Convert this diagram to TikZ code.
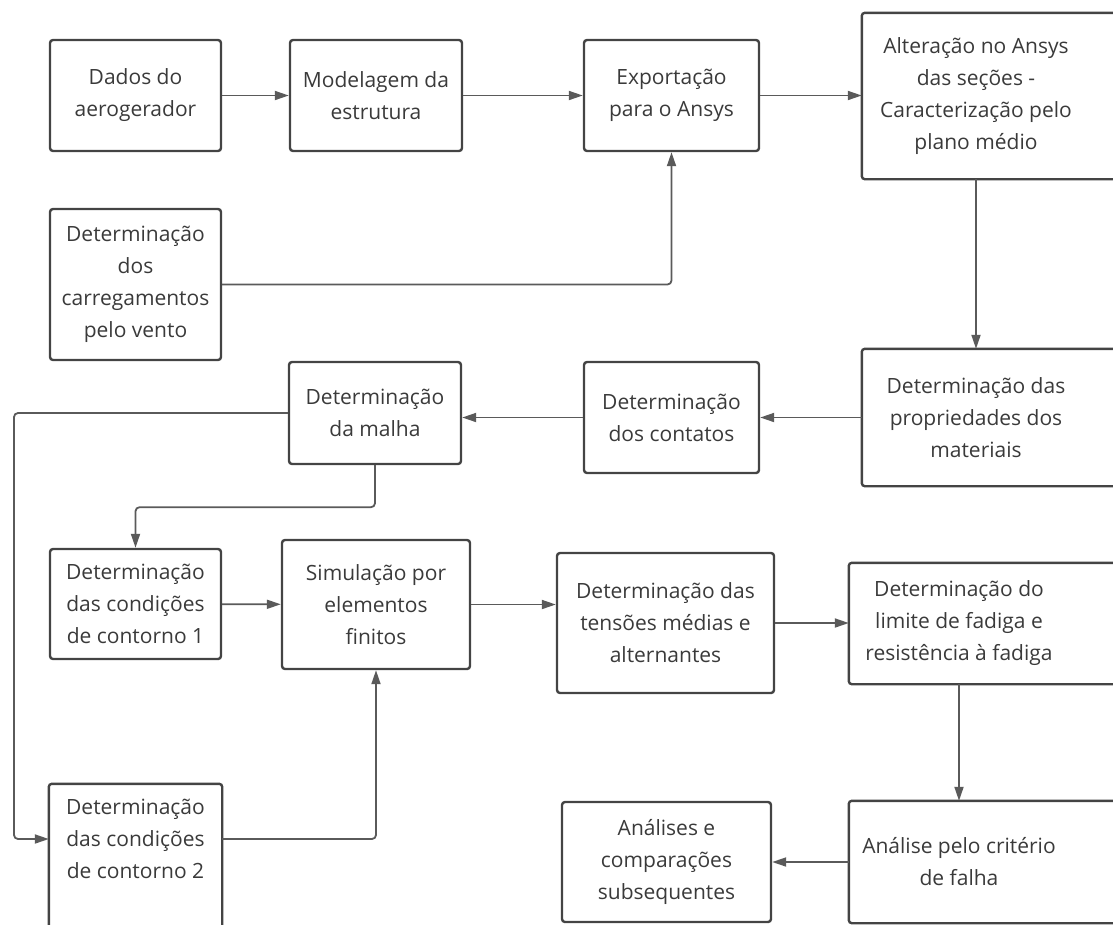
\documentclass[tikz,border=0pt]{standalone}
\usepackage{fontspec}
\setmainfont{Open Sans}
\usepackage{tikz}
\usetikzlibrary{arrows.meta}

\begin{document}
\begin{tikzpicture}[x=1pt,y=-1pt,
	stepbox/.style={draw=custcol_box, line width=2.4pt, rounded corners=3pt, inner sep=0pt, align=center, text=custcol_txt, font=\boxfont},
	cutbox/.style={stepbox, draw=none},
	frame/.style={draw=custcol_box, line width=2.4pt, rounded corners=3pt},
	link/.style={draw=custcol_line, line width=1.8pt, rounded corners=4pt, -{Triangle[length=14pt,width=9pt]}}]
					\def\boxfont{\fontsize{21pt}{32pt}\selectfont}
					\definecolor{custcol_box}{RGB}{68, 68, 68}
					\definecolor{custcol_line}{RGB}{90, 90, 90}
					\definecolor{custcol_txt}{RGB}{58, 58, 58}
					\useasboundingbox (0,0) rectangle (1113,924);
					\clip (0,0) rectangle (1113,924);
					% first row
					\node[stepbox, minimum width=171pt, minimum height=111pt] (dados) at (135.5,95.5) {Dados do\\aerogerador};
					\node[stepbox, minimum width=172pt, minimum height=111pt] (model) at (376,95.5) {Modelagem da\\estrutura};
					\node[stepbox, minimum width=175pt, minimum height=111pt] (export) at (671.5,95.5) {Exportação\\para o Ansys};
					\node[cutbox, minimum width=226pt, minimum height=164pt] (alter) at (976,96) {Alteração no Ansys\\das seções -\\Caracterização pelo\\plano médio};
					\node[stepbox, minimum width=171pt, minimum height=151pt] (carreg) at (135.5,284.5) {Determinação\\dos\\carregamentos\\pelo vento};
					% second row
					\node[cutbox, minimum width=226pt, minimum height=135pt] (props) at (976,417.5) {Determinação das\\propriedades dos\\materiais};
					\node[stepbox, minimum width=175pt, minimum height=111pt] (contatos) at (671.5,417.5) {Determinação\\dos contatos};
					\node[stepbox, minimum width=172pt, minimum height=102pt] (malha) at (375,413) {Determinação\\da malha};
					% third row
					\node[stepbox, minimum width=171pt, minimum height=110pt] (cont1) at (135.5,604) {Determinação\\das condições\\de contorno 1};
					\node[stepbox, minimum width=188pt, minimum height=129pt] (sim) at (376,604.5) {Simulação por\\elementos\\finitos};
					\node[stepbox, minimum width=217pt, minimum height=140pt] (tensoes) at (665.5,623) {Determinação das\\tensões médias e\\alternantes};
					\node[cutbox, minimum width=218pt, minimum height=119pt] (limite) at (959,623.5) {Determinação do\\limite de fadiga e\\resistência à fadiga};
					% last row
					\node[cutbox, minimum width=171pt, minimum height=108pt] (cont2) at (135.5,839) {Determinação\\das condições\\de contorno 2};
					\node[stepbox, minimum width=209pt, minimum height=120pt] (analises) at (666.5,862) {Análises e\\comparações\\subsequentes};
					\node[cutbox, minimum width=218pt, minimum height=120pt] (falha) at (959,862) {Análise pelo critério\\de falha};
					% boxes running past the border
					\draw[frame] (alter.south west) rectangle ([xshift=80pt]alter.north east);
					\draw[frame] (props.south west) rectangle ([xshift=80pt]props.north east);
					\draw[frame] (limite.south west) rectangle ([xshift=80pt]limite.north east);
					\draw[frame] (falha.south west) rectangle ([xshift=80pt]falha.north east);
					\draw[frame] (cont2.north west) rectangle ([yshift=-80pt]cont2.south east);
					\coordinate (leftrail) at (14,0);
					\draw[link] (dados) -- (model);
					\draw[link] (model) -- (export);
					\draw[link] (export.east) -- (export.east -| alter.west);
					\draw[link] (carreg.east) -| (export.south);
					\draw[link] (alter.south) -- (props.north);
					\draw[link] (props.west) -- (contatos.east);
					\draw[link] (contatos.west) -- (contatos.west -| malha.east);
					\draw[link] (malha.south) -- ++(0,42) -| (cont1.north);
					\draw[link] (malha.west) -- (malha.west -| leftrail) |- (cont2.west);
					\draw[link] (cont1) -- (sim);
					\draw[link] (cont2.east) -| (sim.south);
					\draw[link] (sim.east) -- (sim.east -| tensoes.west);
					\draw[link] (tensoes.east) -- (tensoes.east -| limite.west);
					\draw[link] (limite.south) -- (falha.north);
					\draw[link] (falha.west) -- (falha.west -| analises.east);
				\end{tikzpicture}
\end{document}
